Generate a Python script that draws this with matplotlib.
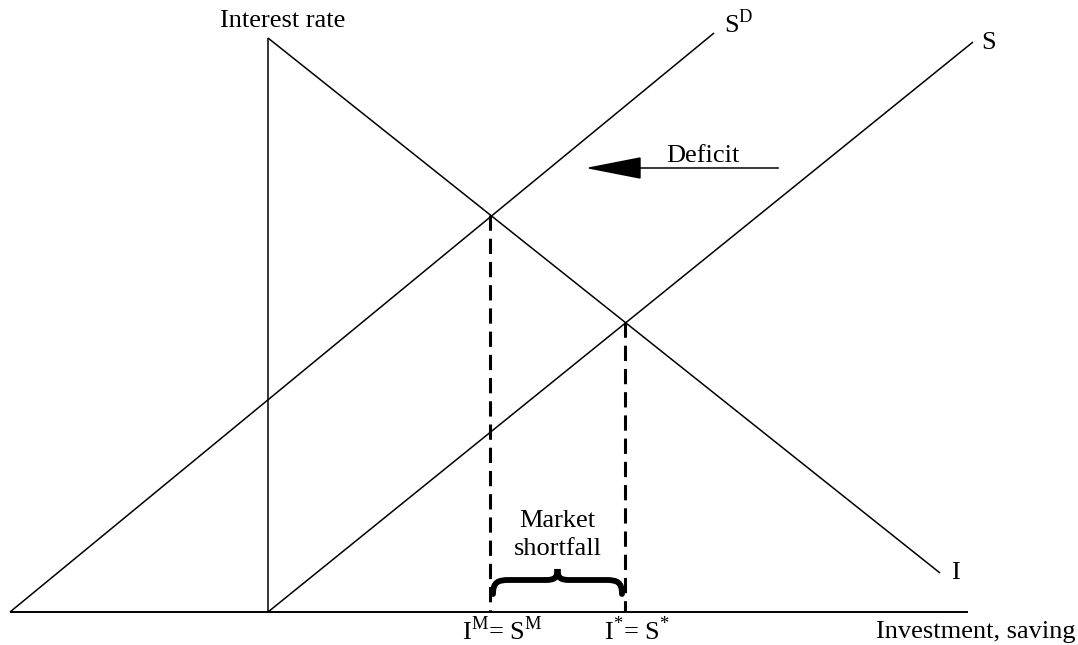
import matplotlib.pyplot as plt
from matplotlib.path import Path
from matplotlib.patches import PathPatch

plt.rcParams['font.family'] = ['Liberation Serif', 'DejaVu Serif']
plt.rcParams['mathtext.fontset'] = 'custom'
plt.rcParams['mathtext.rm'] = 'Liberation Serif'

# Diagram geometry (pixel units of the original drawing, y grows downward)
x_axis = [(10, 612), (968, 612)]
y_axis = [(268, 612), (268, 38)]
line_I = [(268, 38), (940, 573)]
line_SD = [(10, 612), (714, 33)]
line_S = [(268, 612), (973, 42)]
eq_M = (490, 215)
eq_star = (625, 322)
deficit_arrow = [(778, 168), (589, 168)]
brace_span = (493, 622)

fig = plt.figure(figsize=(10.78, 6.45), dpi=100)
ax = fig.add_axes([0, 0, 1, 1])
ax.set_xlim(0, 1078)
ax.set_ylim(645, 0)
ax.axis('off')

def seg(pts, **kw):
    ax.plot([p[0] for p in pts], [p[1] for p in pts], color='black',
            solid_capstyle='butt', **kw)

seg(x_axis, lw=1.4)
seg(y_axis, lw=1.1)
seg(line_I, lw=1.1)
seg(line_SD, lw=1.1)
seg(line_S, lw=1.1)

# dashed drop lines
for px, py in (eq_M, eq_star):
    ax.plot([px, px], [py, x_axis[0][1]], color='black', lw=2.2,
            linestyle=(0, (5, 2.6)))

# deficit arrow
(ax0, ay0), (ax1, ay1) = deficit_arrow
ax.plot([ax0, ax1 + 40], [ay0, ay1], color='black', lw=1.1)
ax.arrow(ax1 + 51, ay1, -51, 0, width=0.1, head_width=20, head_length=51,
         length_includes_head=True, fc='black', ec='black')
ax.text(703, 162, 'Deficit', ha='center', va='baseline', fontsize=19)

# curly brace
b0, b1 = brace_span
mid = (b0 + b1) / 2
yb, yf, yt = 594, 580, 569
verts = [(b0, yb), (b0, yf + 2), (b0 + 5, yf), (b0 + 16, yf),
         (mid - 12, yf), (mid - 3, yf), (mid, yf - 2), (mid, yt),
         (mid, yf - 2), (mid + 3, yf), (mid + 12, yf),
         (b1 - 16, yf), (b1 - 5, yf), (b1, yf + 2), (b1, yb)]
codes = [Path.MOVETO, Path.CURVE4, Path.CURVE4, Path.CURVE4,
         Path.LINETO, Path.CURVE4, Path.CURVE4, Path.CURVE4,
         Path.CURVE4, Path.CURVE4, Path.CURVE4,
         Path.LINETO, Path.CURVE4, Path.CURVE4, Path.CURVE4]
ax.add_patch(PathPatch(Path(verts, codes), fill=False, lw=4.2,
                       ec='black', capstyle='round'))
ax.text(mid, 527, 'Market', ha='center', va='baseline', fontsize=19)
ax.text(mid, 555, 'shortfall', ha='center', va='baseline', fontsize=19)

# labels
ax.text(283, 27, 'Interest rate', ha='center', va='baseline', fontsize=19)
ax.text(724, 33, r'S$^{\mathrm{D}}$', ha='left', va='baseline', fontsize=19)
ax.text(981, 49, 'S', ha='left', va='baseline', fontsize=19)
ax.text(951, 579, 'I', ha='left', va='baseline', fontsize=19)
ax.text(462, 640, r'I$^{\mathrm{M}}$= S$^{\mathrm{M}}$', ha='left',
        va='baseline', fontsize=19)
ax.text(604, 640, r'I$^{*}$= S$^{*}$', ha='left', va='baseline', fontsize=19)
ax.text(1076, 638, 'Investment, saving', ha='right', va='baseline',
        fontsize=19)

fig.savefig('out.png', dpi=100)
